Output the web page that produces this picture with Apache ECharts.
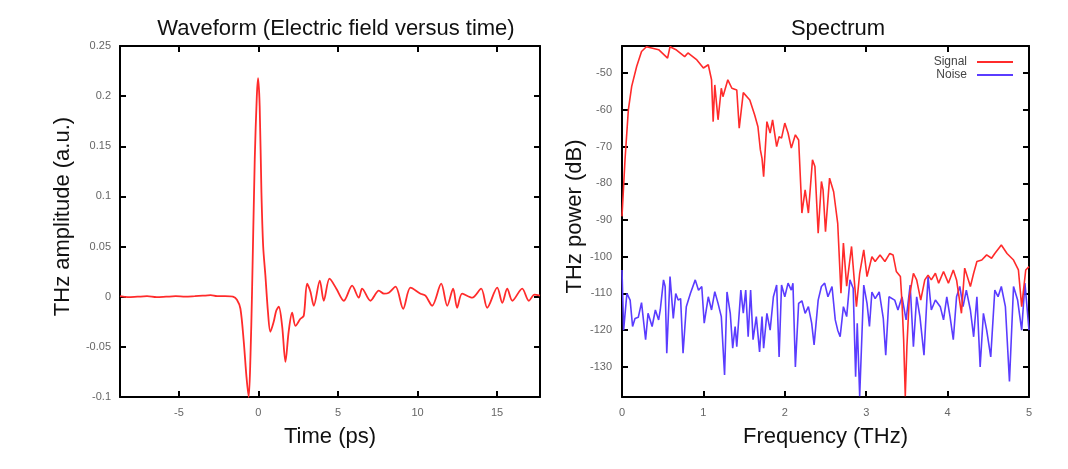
<!DOCTYPE html>
<html>
<head>
<meta charset="utf-8">
<script src="https://cdn.jsdelivr.net/npm/echarts@6/dist/echarts.min.js"></script>
<style>html,body{margin:0;padding:0;background:#fff;}#c{width:1068px;height:469px;}</style>
</head>
<body>
<div id="c"></div>
<script>
// Waveform (time in ps, amplitude a.u.)
var waveTime = [-8.7,-8.2,-7.6,-7.0,-6.4,-5.8,-5.2,-4.6,-4.0,-3.5,-3.0,-2.6,-2.1,-1.6,-1.35,-1.13,-0.92,-0.75,-0.61,-0.5,-0.4,-0.23,-0.1,-0.02,0.08,0.19,0.3,0.44,0.6,0.75,0.96,1.12,1.28,1.49,1.70,1.9,2.12,2.33,2.64,2.85,3.06,3.27,3.48,3.86,4.11,4.47,4.9,5.37,5.89,6.31,6.52,7.04,7.57,7.89,8.2,8.62,9.1,9.56,10.19,10.5,10.92,11.49,11.87,12.24,12.49,12.81,13.44,14.0,14.38,15.01,15.33,15.64,15.96,16.58,17.0,17.35,17.7];
var waveAmp  = [0.0005,-0.0005,0.0,0.0005,-0.0005,0.0,0.0005,0.0,0.0005,0.001,0.0015,0.0005,0.0005,0.0,-0.003,-0.012,-0.045,-0.08,-0.1,-0.06,0.005,0.137,0.2,0.218,0.19,0.104,0.05,0.021,-0.015,-0.035,-0.025,-0.014,-0.010,-0.029,-0.065,-0.035,-0.016,-0.029,-0.022,-0.019,0.013,0.005,-0.009,0.016,-0.004,0.018,0.008,-0.004,0.011,-0.001,0.008,-0.004,0.006,0.003,0.004,0.010,-0.012,0.009,0.003,0.001,-0.009,0.013,-0.009,0.008,-0.011,0.003,-0.001,0.008,-0.011,0.009,-0.006,0.008,-0.004,0.008,-0.004,0.002,0.001];

// Spectrum: signal (THz, dB)
var sigFreq = [0,0.037,0.078,0.119,0.18,0.24,0.30,0.45,0.56,0.59,0.67,0.77,0.81,0.92,1.0,1.06,1.10,1.12,1.14,1.18,1.22,1.24,1.30,1.35,1.41,1.44,1.49,1.57,1.63,1.67,1.70,1.72,1.74,1.78,1.82,1.85,1.90,1.93,1.96,2.0,2.04,2.08,2.13,2.17,2.20,2.21,2.25,2.29,2.34,2.37,2.41,2.45,2.47,2.50,2.55,2.60,2.65,2.69,2.72,2.76,2.82,2.88,2.92,2.97,3.01,3.07,3.11,3.17,3.23,3.29,3.33,3.37,3.42,3.44,3.46,3.48,3.50,3.53,3.58,3.62,3.67,3.72,3.76,3.80,3.85,3.89,3.95,4.01,4.07,4.11,4.17,4.21,4.28,4.32,4.36,4.42,4.48,4.54,4.58,4.66,4.73,4.81,4.87,4.91,4.96,5.0];
var sigDb   = [-89,-73.6,-60,-53.6,-48.2,-44.1,-42.8,-43.6,-45.9,-42.8,-43.7,-45.5,-44.5,-46.4,-48.6,-47.7,-51.8,-63.2,-53.2,-62.7,-54.1,-56.4,-51.8,-54.1,-54.6,-65,-55.3,-57.3,-61.4,-64.6,-70.9,-73.2,-78.2,-63.2,-66.3,-62.7,-70,-67.3,-67.7,-63.6,-66.3,-70.4,-66.8,-68.2,-82.7,-88.1,-81.8,-88.1,-73.6,-75.4,-93.6,-79.5,-81.8,-93.2,-78.6,-82.3,-90.9,-109.9,-96.3,-108,-97.2,-113.6,-104.5,-98.1,-105.4,-100,-101.3,-99.5,-101.3,-99.1,-99.5,-104,-105.4,-112.6,-122.6,-138,-124.5,-110.9,-104.5,-106.3,-111.8,-106.3,-105,-106.3,-104.5,-107.2,-104,-107.2,-103.6,-106.3,-115.4,-103.1,-108.1,-104.5,-101.3,-100.9,-99.5,-100.4,-99.1,-96.8,-99.1,-100.9,-103.6,-113.6,-103.6,-102.7];

// Spectrum: noise (THz, dB)
var noiseFreq = [0,0.02,0.06,0.1,0.13,0.16,0.2,0.24,0.29,0.32,0.37,0.41,0.45,0.47,0.51,0.53,0.55,0.59,0.63,0.66,0.69,0.72,0.75,0.79,0.84,0.9,0.94,0.98,1.01,1.06,1.10,1.14,1.18,1.22,1.26,1.29,1.33,1.36,1.39,1.41,1.46,1.49,1.52,1.55,1.58,1.61,1.65,1.69,1.72,1.74,1.78,1.82,1.86,1.90,1.93,1.96,2.0,2.04,2.08,2.10,2.13,2.17,2.21,2.25,2.29,2.33,2.36,2.41,2.45,2.49,2.53,2.58,2.62,2.65,2.68,2.72,2.76,2.80,2.84,2.87,2.89,2.92,2.97,3.01,3.04,3.07,3.11,3.16,3.21,3.24,3.28,3.35,3.39,3.44,3.49,3.54,3.58,3.62,3.66,3.71,3.76,3.80,3.85,3.91,3.95,3.99,4.03,4.07,4.11,4.15,4.19,4.23,4.28,4.32,4.36,4.40,4.44,4.48,4.53,4.58,4.62,4.66,4.71,4.76,4.81,4.86,4.91,4.95,5.0];
var noiseDb   = [-103.6,-120,-110,-111.8,-119,-116.8,-116.5,-112.5,-122.6,-115.4,-119,-114.5,-117.2,-114.5,-106.3,-108.1,-126.3,-105.4,-116.8,-110,-111.8,-111.4,-126.3,-113.6,-110,-106.3,-109.1,-108.1,-118.1,-110.9,-114.5,-109.5,-112.7,-116.3,-132.2,-109.6,-115.4,-124.9,-119,-124.5,-109.1,-115.4,-109.1,-121.8,-109.1,-122.6,-116.3,-125.9,-116.3,-124.9,-115.4,-120,-110.9,-107.7,-127.3,-107.7,-110.9,-107.2,-109.1,-107.2,-130,-112.7,-112,-115.4,-113.6,-118.1,-124,-111.8,-108.1,-107.2,-110.9,-108.1,-117.2,-120,-121.8,-113.6,-116.3,-106.3,-108.6,-132.7,-118.1,-138,-107.7,-112.7,-119,-109.6,-111.4,-109.6,-116.8,-126.8,-110.9,-111.8,-114.5,-110.9,-117.2,-107.7,-124.5,-110.9,-116.3,-126.8,-105.4,-114.5,-111.8,-113.6,-117.2,-110.9,-116.3,-122.6,-110.9,-108.1,-113.6,-109.1,-114.5,-121.8,-110.9,-130,-115.4,-120,-127.3,-109.1,-110.9,-108.1,-113.6,-134,-108.1,-111.8,-120,-107.2,-120];

var timeTicks = [-5,0,5,10,15];
var ampTicks = [-0.1,-0.05,0,0.05,0.1,0.15,0.2,0.25];
var freqTicks = [0,1,2,3,4,5];
var dbTicks = [-130,-120,-110,-100,-90,-80,-70,-60,-50];

function zip(a,b){var r=[];for(var i=0;i<a.length;i++)r.push([a[i],b[i]]);return r;}

var FONT = '"Liberation Sans", Arial, sans-serif';
var frameLine = {show:true, onZero:false, lineStyle:{color:'#000', width:2}};
function tickCfg(vals){return {show:true, inside:true, length:6, lineStyle:{color:'#000', width:2}, customValues:vals};}
function labelCfg(vals, margin, fmt){return {show:true, color:'#666', fontSize:11, fontFamily:FONT, margin:margin, customValues:vals, formatter:fmt};}
function noLabel(){return {show:false};}
var nameStyle = {fontSize:22, color:'#111', fontFamily:FONT};
var yNameStyle = {fontSize:22, color:'#111', fontFamily:FONT, padding:[0,0,0,10]};

var chart = echarts.init(document.getElementById('c'), null, {renderer:'canvas'});
var option = {
  backgroundColor:'#fff',
  animation:false,
  title:[
    {text:'Waveform (Electric field versus time)', left:331, top:13, textAlign:'center',
     textStyle:{fontSize:22, fontWeight:'normal', color:'#111', fontFamily:FONT}},
    {text:'Spectrum', left:833, top:13, textAlign:'center',
     textStyle:{fontSize:22, fontWeight:'normal', color:'#111', fontFamily:FONT}}
  ],
  legend:{
    orient:'vertical', right:50, top:51, align:'right',
    itemWidth:36, itemHeight:2, itemGap:1, icon:'rect',
    textStyle:{fontSize:12, lineHeight:12, color:'#444', fontFamily:FONT, padding:[0,5,0,0]},
    data:['Signal','Noise']
  },
  grid:[
    {left:120, top:46, width:420, height:351},
    {left:622, top:46, width:407, height:351}
  ],
  xAxis:[
    {type:'value', gridIndex:0, min:-8.7, max:17.7, position:'bottom',
     name:'Time (ps)', nameLocation:'middle', nameGap:29, nameTextStyle:nameStyle,
     axisLine:frameLine, axisTick:tickCfg(timeTicks),
     axisLabel:labelCfg(timeTicks, 10, function(v){return String(v);}), splitLine:{show:false}},
    {type:'value', gridIndex:0, min:-8.7, max:17.7, position:'top',
     axisLine:frameLine, axisTick:tickCfg(timeTicks), axisLabel:noLabel(), splitLine:{show:false}},
    {type:'value', gridIndex:1, min:0, max:5, position:'bottom',
     name:'Frequency (THz)', nameLocation:'middle', nameGap:29, nameTextStyle:nameStyle,
     axisLine:frameLine, axisTick:tickCfg(freqTicks),
     axisLabel:labelCfg(freqTicks, 10, function(v){return String(v);}), splitLine:{show:false}},
    {type:'value', gridIndex:1, min:0, max:5, position:'top',
     axisLine:frameLine, axisTick:tickCfg(freqTicks), axisLabel:noLabel(), splitLine:{show:false}}
  ],
  yAxis:[
    {type:'value', gridIndex:0, min:-0.1, max:0.25, position:'left',
     name:'THz amplitude (a.u.)', nameLocation:'middle', nameGap:46, nameRotate:90, nameTextStyle:yNameStyle,
     axisLine:frameLine, axisTick:tickCfg(ampTicks),
     axisLabel:labelCfg(ampTicks, 9, function(v){return String(+v.toFixed(2));}), splitLine:{show:false}},
    {type:'value', gridIndex:0, min:-0.1, max:0.25, position:'right',
     axisLine:frameLine, axisTick:tickCfg(ampTicks), axisLabel:noLabel(), splitLine:{show:false}},
    {type:'value', gridIndex:1, min:-138.2, max:-42.6, position:'left',
     name:'THz power (dB)', nameLocation:'middle', nameGap:35, nameRotate:90, nameTextStyle:yNameStyle,
     axisLine:frameLine, axisTick:tickCfg(dbTicks),
     axisLabel:labelCfg(dbTicks, 10, function(v){return String(v);}), splitLine:{show:false}},
    {type:'value', gridIndex:1, min:-138.2, max:-42.6, position:'right',
     axisLine:frameLine, axisTick:tickCfg(dbTicks), axisLabel:noLabel(), splitLine:{show:false}}
  ],
  series:[
    {name:'Waveform', type:'line', xAxisIndex:0, yAxisIndex:0, data:zip(waveTime, waveAmp),
     showSymbol:false, smooth:0.3, lineStyle:{color:'#ff2b2b', width:1.8}, itemStyle:{color:'#ff2b2b'}},
    {name:'Signal', type:'line', xAxisIndex:2, yAxisIndex:2, data:zip(sigFreq, sigDb),
     showSymbol:false, lineStyle:{color:'#ff2b2b', width:1.6}, itemStyle:{color:'#ff2b2b'}, z:3},
    {name:'Noise', type:'line', xAxisIndex:2, yAxisIndex:2, data:zip(noiseFreq, noiseDb),
     showSymbol:false, lineStyle:{color:'#5a3cff', width:1.6}, itemStyle:{color:'#5a3cff'}, z:2}
  ]
};
chart.setOption(option);
</script>
</body>
</html>
